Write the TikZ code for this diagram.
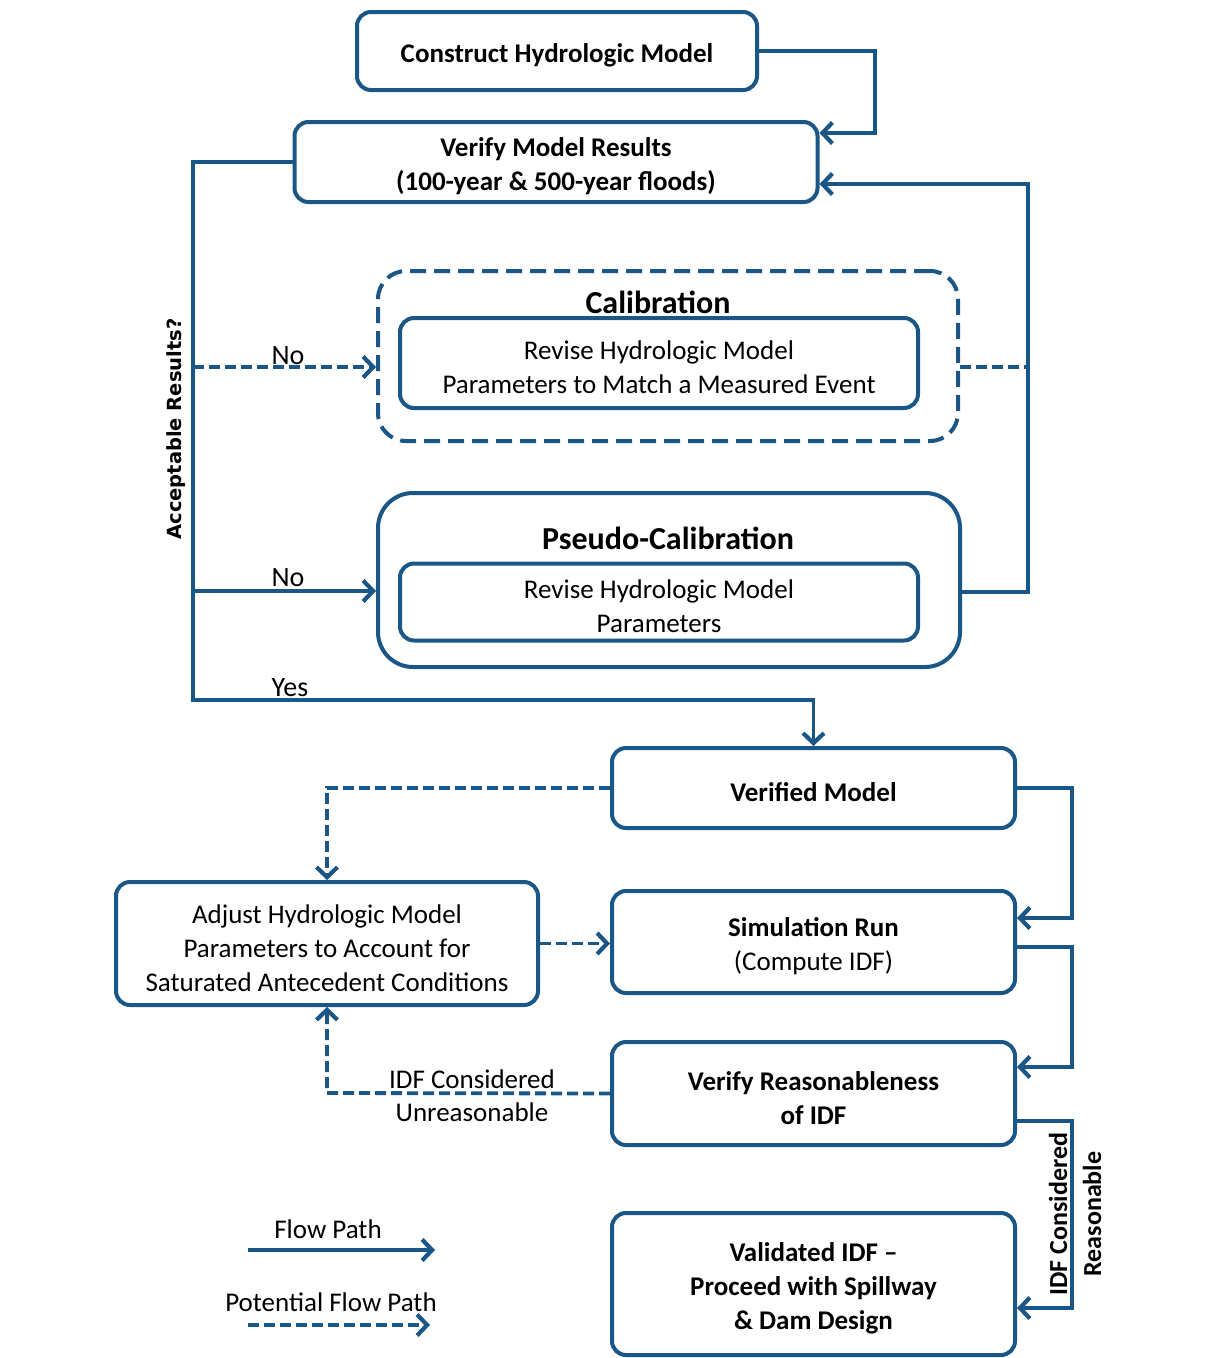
\documentclass[tikz,border=0pt]{standalone}
\usepackage{fontspec}
\setmainfont{Carlito}
\newfontfamily\dejavu{DejaVu Sans}
\usetikzlibrary{arrows.meta}
\definecolor{bc}{RGB}{26,86,134}
\newcommand\tpx{\rule{0pt}{28pt}}
\begin{document}
\begin{tikzpicture}[x=1pt,y=-1pt,
  box/.style={draw=bc, line width=4pt, rounded corners=14pt, align=center, inner sep=0pt, fill=white, text=black, font=\fontsize{27}{34}\selectfont\bfseries},
  inbox/.style={box, font=\fontsize{27}{34}\selectfont},
  flow/.style={draw=bc, line width=3.8pt, -{Straight Barb[length=10pt,width=21pt,line width=4.2pt]}},
  pflow/.style={flow, dash pattern=on 11pt off 5pt},
  line/.style={draw=bc, line width=3.8pt},
  pline/.style={line, dash pattern=on 11pt off 5pt},
  lbl/.style={font=\fontsize{27}{33}\selectfont, inner sep=0pt, align=center},
  blbl/.style={font=\fontsize{32}{38}\selectfont\bfseries, inner sep=0pt},
]
\fill[white] (0,0) rectangle (1207,1358);
\useasboundingbox (0,0) rectangle (1207,1358);

% outer group boxes
\node[draw=bc, line width=4pt, dash pattern=on 16pt off 8pt, rounded corners=28pt, minimum width=580pt, minimum height=170pt] (calib) at (668,356) {};
\node[draw=bc, line width=4pt, rounded corners=35pt, minimum width=582pt, minimum height=174pt] (pseudo) at (669,580) {};
\node[blbl] (calibt) at (658,302) {Calibration};
\node[blbl] (pseudot) at (668,538) {Pseudo-Calibration};

% boxes
\node[box, minimum width=400pt, minimum height=78pt] (construct) at (557,51) {\tpx Construct Hydrologic Model};
\node[box, minimum width=523pt, minimum height=80pt] (verify) at (556,162) {\tpx Verify Model Results\\(100-year \& 500-year floods)};
\node[inbox, minimum width=518pt, minimum height=90pt] (calibin) at (659,363) {\tpx Revise Hydrologic Model\\Parameters to Match a Measured Event};
\node[inbox, minimum width=518pt, minimum height=77pt] (pseudoin) at (659,602) {\tpx Revise Hydrologic Model\\Parameters};
\node[box, minimum width=403pt, minimum height=80pt] (verified) at (813.5,788) {\tpx Verified Model};
\node[inbox, minimum width=422pt, minimum height=123pt] (adjust) at (327,943.5) {\tpx Adjust Hydrologic Model\\Parameters to Account for\\Saturated Antecedent Conditions};
\node[box, minimum width=403pt, minimum height=102pt] (sim) at (813.5,942) {\tpx Simulation Run\\{\mdseries(Compute IDF)}};
\node[box, minimum width=403pt, minimum height=103pt] (reason) at (813.5,1093.5) {\tpx Verify Reasonableness\\of IDF};
\node[box, minimum width=403pt, minimum height=142pt] (valid) at (813.5,1284) {\tpx Validated IDF --\\Proceed with Spillway\\\& Dam Design};

% top connectors
\coordinate (r1) at (875,133);
\draw[flow] (construct.east) -| (r1) -- (r1 -| verify.east);
\coordinate (pr) at (1028,592);
\coordinate (rr) at (1028,184);
\draw[flow] (pr -| pseudo.east) -- (pr) -- (rr) -- (rr -| verify.east);
\coordinate (cr) at (1028,367);
\draw[pline] (cr -| calib.east) -- (cr);

% left decision branch
\coordinate (ly) at (193,700);
\draw[flow] (verify.west) -| (ly) -| (verified.north);
\coordinate (bn1) at (193,367);
\draw[pflow] (bn1) -- (bn1 -| calib.west);
\coordinate (bn2) at (193,591);
\draw[flow] (bn2) -- (bn2 -| pseudo.west);
\node[lbl, font=\fontsize{28}{33}\selectfont] (no1) at (288,356) {No};
\node[lbl, font=\fontsize{28}{33}\selectfont] (no2) at (288,578) {No};
\node[lbl, font=\fontsize{28}{33}\selectfont] (yes) at (290,688) {Yes};
\node[rotate=90, inner sep=0pt, font=\dejavu\bfseries\fontsize{19.5}{24}\selectfont] (acc) at (176,429) {Acceptable Results?};

% right chain
\coordinate (v1) at (1072,918);
\draw[flow] (verified.east) -| (v1) -- (v1 -| sim.east);
\coordinate (s1) at (1072,947);
\coordinate (s2) at (1072,1067);
\draw[flow] (s1 -| sim.east) -- (s1) -- (s2) -- (s2 -| reason.east);
\coordinate (q1) at (1072,1121);
\coordinate (q2) at (1072,1308);
\draw[flow] (q1 -| reason.east) -- (q1) -- (q2) -- (q2 -| valid.east);
\node[rotate=90, inner sep=0pt, align=center, font=\fontsize{26}{34}\selectfont\bfseries] (idfr) at (1075,1214) {IDF Considered\\Reasonable};

% dashed loop
\coordinate (d1) at (327,788);
\draw[pflow] (verified.west) -- (d1) -- (adjust.north);
\draw[pflow] (adjust.east) -- (adjust.east -| sim.west);
\coordinate (d2) at (327,1093);
\draw[pflow] (reason.west) -- (d2) -- (adjust.south);
\node[lbl] (idfu1) at (472,1079) {IDF Considered};
\node[lbl] (idfu2) at (472,1112) {Unreasonable};

% legend
\node[lbl] (lfp) at (328,1229) {Flow Path};
\coordinate (la1) at (248,1250);
\coordinate (la2) at (435,1250);
\draw[flow] (la1) -- (la2);
\node[lbl] (lpfp) at (331,1302) {Potential Flow Path};
\coordinate (lb1) at (248,1325);
\coordinate (lb2) at (430,1325);
\draw[pflow] (lb1) -- (lb2);
\end{tikzpicture}
\end{document}
